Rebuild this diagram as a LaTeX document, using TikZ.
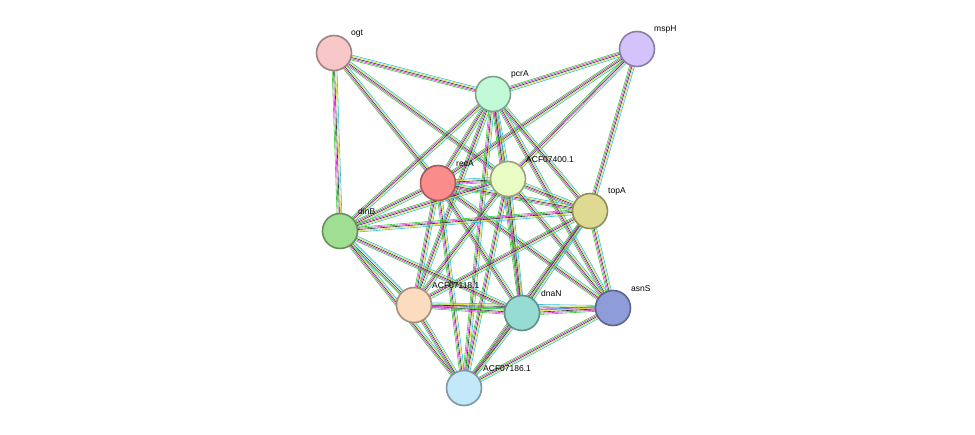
\documentclass[tikz,border=0pt]{standalone}
\usepackage{fontspec}
\setmainfont{Liberation Sans}
\usetikzlibrary{calc,backgrounds}
\definecolor{eg}{HTML}{33CC33}
\definecolor{em}{HTML}{DD33DD}
\definecolor{ek}{HTML}{333333}
\definecolor{ey}{HTML}{CCDD33}
\definecolor{ec}{HTML}{33BBDD}
\definecolor{cogt}{HTML}{F8C8C8}
\definecolor{cpcr}{HTML}{C2FAD8}
\definecolor{cmsp}{HTML}{D4C2FA}
\definecolor{crec}{HTML}{FB8C8C}
\definecolor{cacf}{HTML}{E8FCC4}
\definecolor{ctop}{HTML}{DEDA92}
\definecolor{cdin}{HTML}{A0DE92}
\definecolor{cone}{HTML}{FCDCBE}
\definecolor{cdna}{HTML}{96DCD2}
\definecolor{casn}{HTML}{8E9CDA}
\definecolor{ctwo}{HTML}{C2E8FA}
\newcommand\strlink[2]{%
  \foreach \c/\d in {eg/-2.4, em/-1.2, ek/0, ey/1.2, ec/2.4}{%
    \draw[\c, line width=0.6pt] ($(#1)!\d pt!90:(#2)$) -- ($(#2)!\d pt!-90:(#1)$);}}
\begin{document}
\begin{tikzpicture}[x=1pt,y=-1pt,
  prot/.style={circle, draw=#1!65!black, fill=#1, line width=1.6pt, minimum size=35pt, inner sep=0pt},
  lbl/.style={font=\fontsize{8.5}{10}\selectfont, inner sep=1pt, anchor=south west}]
  \useasboundingbox (0,0) rectangle (975,434);

  % proteins
  \node[prot=cogt] (ogt) at (334,53) {};
  \node[prot=cpcr] (pcrA) at (493,94) {};
  \node[prot=cmsp] (mspH) at (637,49) {};
  \node[prot=crec] (recA) at (438,183) {};
  \node[prot=cacf] (n400) at (508,179) {};
  \node[prot=ctop] (topA) at (590,211) {};
  \node[prot=cdin] (dinB) at (340,231) {};
  \node[prot=cone] (n118) at (414,305) {};
  \node[prot=cdna] (dnaN) at (522,313) {};
  \node[prot=casn] (asnS) at (613,308) {};
  \node[prot=ctwo] (n186) at (464,388) {};

  % labels
  \node[lbl] at (350,38) {ogt};
  \node[lbl] at (510,79) {pcrA};
  \node[lbl] at (653,34) {mspH};
  \node[lbl] at (455,168) {recA};
  \node[lbl] at (525,164) {ACF07400.1};
  \node[lbl] at (607,196) {topA};
  \node[lbl] at (357,216) {dinB};
  \node[lbl] at (431,290) {ACF07118.1};
  \node[lbl] at (540,298) {dnaN};
  \node[lbl] at (630,293) {asnS};
  \node[lbl] at (482,373) {ACF07186.1};

  % interactions
  \begin{pgfonlayer}{background}
    \foreach \a/\b in {ogt/pcrA, ogt/recA, ogt/n400, ogt/dinB,
      mspH/pcrA, mspH/recA, mspH/n400, mspH/topA,
      pcrA/recA, pcrA/n400, pcrA/topA, pcrA/dinB, pcrA/n118, pcrA/dnaN, pcrA/asnS, pcrA/n186,
      recA/n400, recA/topA, recA/dinB, recA/n118, recA/dnaN, recA/asnS, recA/n186,
      n400/topA, n400/dinB, n400/n118, n400/dnaN, n400/asnS, n400/n186,
      topA/dinB, topA/n118, topA/dnaN, topA/asnS, topA/n186,
      dinB/n118, dinB/dnaN, dinB/n186,
      n118/dnaN, n118/asnS, n118/n186,
      dnaN/asnS, dnaN/n186, asnS/n186}
      {\strlink{\a}{\b}}
  \end{pgfonlayer}
\end{tikzpicture}
\end{document}
